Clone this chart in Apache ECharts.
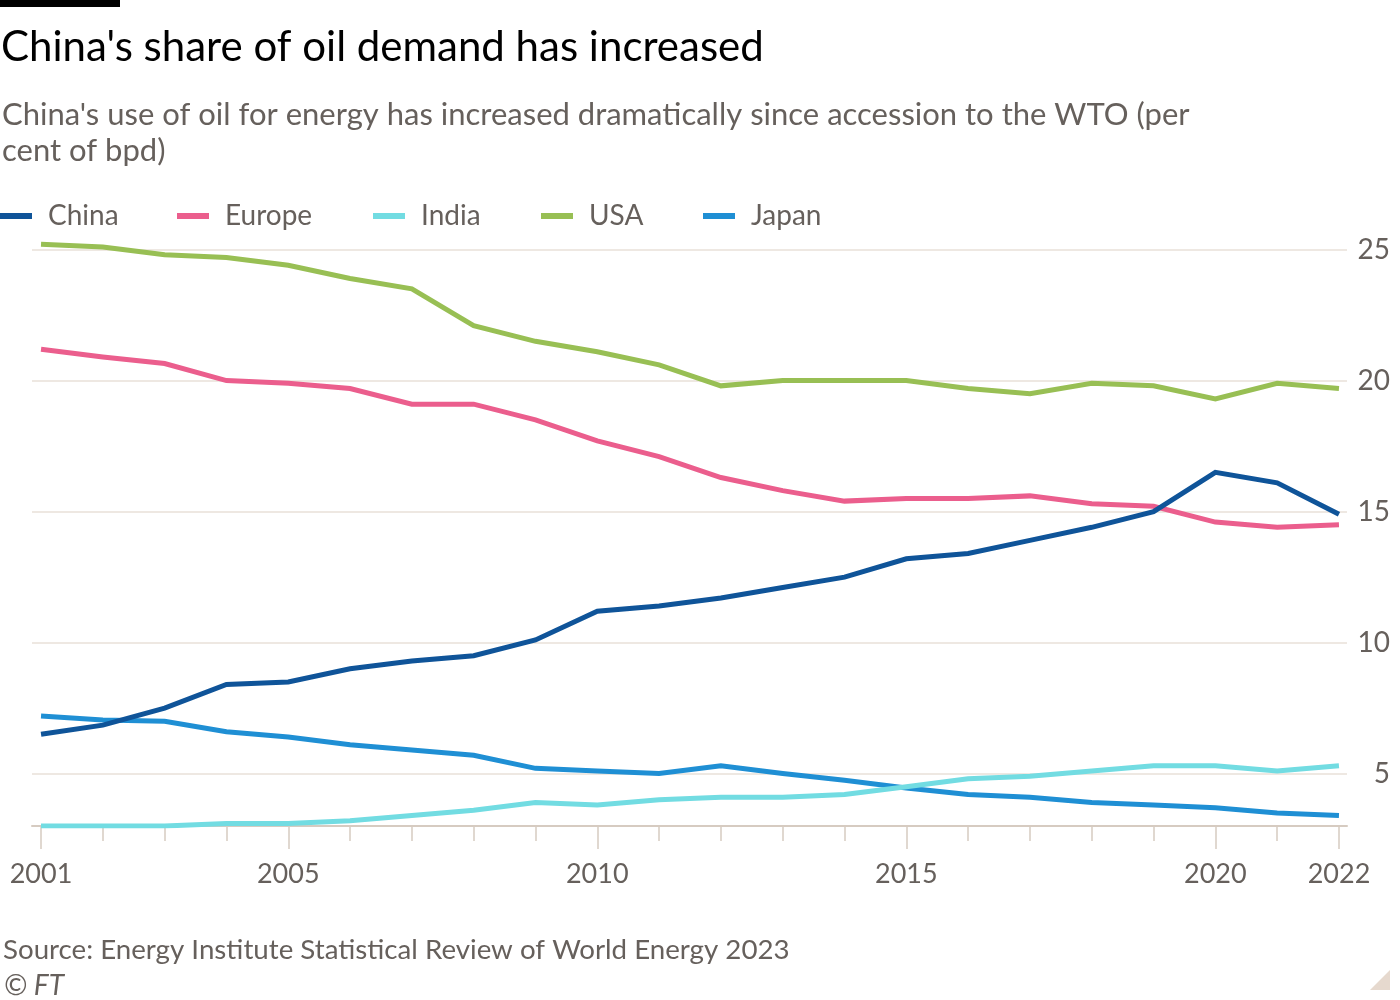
<!DOCTYPE html>
<html>
<head>
<meta charset="utf-8">
<script src="https://cdn.jsdelivr.net/npm/echarts@6/dist/echarts.min.js"></script>
<style>
  html, body { margin: 0; padding: 0; background: #fff; }
  #chart { width: 1400px; height: 1000px; }
</style>
</head>
<body>
<div id="chart"></div>
<script>
// data (per cent of bpd)
var years = [2001, 2002, 2003, 2004, 2005, 2006, 2007, 2008, 2009, 2010, 2011,
             2012, 2013, 2014, 2015, 2016, 2017, 2018, 2019, 2020, 2021, 2022];
var china  = [6.5, 6.85, 7.5, 8.4, 8.5, 9.0, 9.3, 9.5, 10.1, 11.2, 11.4,
              11.7, 12.1, 12.5, 13.2, 13.4, 13.9, 14.4, 15.0, 16.5, 16.1, 14.9];
var europe = [21.2, 20.9, 20.65, 20.0, 19.9, 19.7, 19.1, 19.1, 18.5, 17.7, 17.1,
              16.3, 15.8, 15.4, 15.5, 15.5, 15.6, 15.3, 15.2, 14.6, 14.4, 14.5];
var india  = [3.0, 3.0, 3.0, 3.1, 3.1, 3.2, 3.4, 3.6, 3.9, 3.8, 4.0,
              4.1, 4.1, 4.2, 4.5, 4.8, 4.9, 5.1, 5.3, 5.3, 5.1, 5.3];
var usa    = [25.2, 25.1, 24.8, 24.7, 24.4, 23.9, 23.5, 22.1, 21.5, 21.1, 20.6,
              19.8, 20.0, 20.0, 20.0, 19.7, 19.5, 19.9, 19.8, 19.3, 19.9, 19.7];
var japan  = [7.2, 7.05, 7.0, 6.6, 6.4, 6.1, 5.9, 5.7, 5.2, 5.1, 5.0,
              5.3, 5.0, 4.75, 4.45, 4.2, 4.1, 3.9, 3.8, 3.7, 3.5, 3.4];
var yearLabels = [2001, 2005, 2010, 2015, 2020, 2022];
var yTicks = [5, 10, 15, 20, 25];

var names  = ['China', 'Europe', 'India', 'USA', 'Japan'];
var colors = ['#0f5499', '#eb5e8d', '#72dce2', '#98bf54', '#1f8fd4'];
var values = [china, europe, india, usa, japan];

var FONT = 'Lato';
var GREY = '#66605c';

var myChart = echarts.init(document.getElementById('chart'));

var series = names.map(function (n, i) {
    return {
        name: n,
        type: 'line',
        data: years.map(function (y, k) { return [y, values[i][k]]; }),
        symbol: 'none',
        color: colors[i],
        lineStyle: { width: 5, color: colors[i], cap: 'butt', join: 'miter' },
        z: 10 - i
    };
});

// one legend per item so each key sits where it does in the original
var legendLeft = [0, 177, 373, 541, 703];
var legends = names.map(function (n, i) {
    return {
        left: legendLeft[i], top: 202,
        padding: 0,
        icon: 'rect',
        itemWidth: 32, itemHeight: 6,
        textStyle: { fontFamily: FONT, fontSize: 28, color: GREY, padding: [0, 0, 0, 11] },
        data: [n]
    };
});

var option = {
    backgroundColor: '#ffffff',
    animation: false,
    title: [
        { text: "China's share of oil demand has increased", left: -4, top: 21,
          textStyle: { fontFamily: FONT, fontSize: 42, fontWeight: 'normal', color: '#000000' } },
        { text: "China's use of oil for energy has increased dramatically since accession to the WTO (per\ncent of bpd)",
          left: -3, top: 92,
          textStyle: { fontFamily: FONT, fontSize: 31, fontWeight: 'normal', color: GREY, lineHeight: 36 } },
        { text: 'Source: Energy Institute Statistical Review of World Energy 2023', left: -2, top: 931,
          textStyle: { fontFamily: FONT, fontSize: 27.7, fontWeight: 'normal', color: GREY } },
        { text: '© FT', left: -1, top: 967,
          textStyle: { fontFamily: FONT, fontSize: 28, fontWeight: 'normal', fontStyle: 'italic', color: GREY } }
    ],
    legend: legends,
    grid: { left: 32, right: 53, top: 236.5, bottom: 174, containLabel: false },
    xAxis: [{
        type: 'value',
        min: 2000.854, max: 2022.13,
        axisLine: { show: true, lineStyle: { color: '#d6cbc1', width: 2 } },
        axisTick: { show: true, length: 15, lineStyle: { color: '#d6cbc1', width: 1.5 },
                    customValues: years },
        axisLabel: { show: true, customValues: yearLabels, margin: 35,
                     fontFamily: FONT, fontSize: 27, color: GREY,
                     formatter: function (v) { return String(v); } },
        splitLine: { show: false }
    }, {
        type: 'value',
        min: 2000.854, max: 2022.13,
        position: 'bottom',
        axisLine: { show: false },
        axisTick: { show: true, length: 23, lineStyle: { color: '#d6cbc1', width: 1.5 },
                    customValues: yearLabels },
        axisLabel: { show: false },
        splitLine: { show: false }
    }],
    yAxis: {
        type: 'value',
        position: 'right',
        min: 3, max: 25.5,
        axisLine: { show: false },
        axisTick: { show: false, customValues: yTicks },
        axisLabel: { customValues: yTicks, align: 'right', margin: 43,
                     fontFamily: FONT, fontSize: 28, color: GREY },
        splitLine: { show: true, lineStyle: { color: '#e9e0d8', width: 1.5 } }
    },
    graphic: [
        { type: 'rect', left: 0, top: 0, shape: { width: 120, height: 7 }, style: { fill: '#000000' } },
        { type: 'polygon', shape: { points: [[1370, 990], [1390, 970], [1390, 990]] },
          style: { fill: '#e6d9ce' } }
    ],
    series: series
};

myChart.setOption(option);
</script>
</body>
</html>
